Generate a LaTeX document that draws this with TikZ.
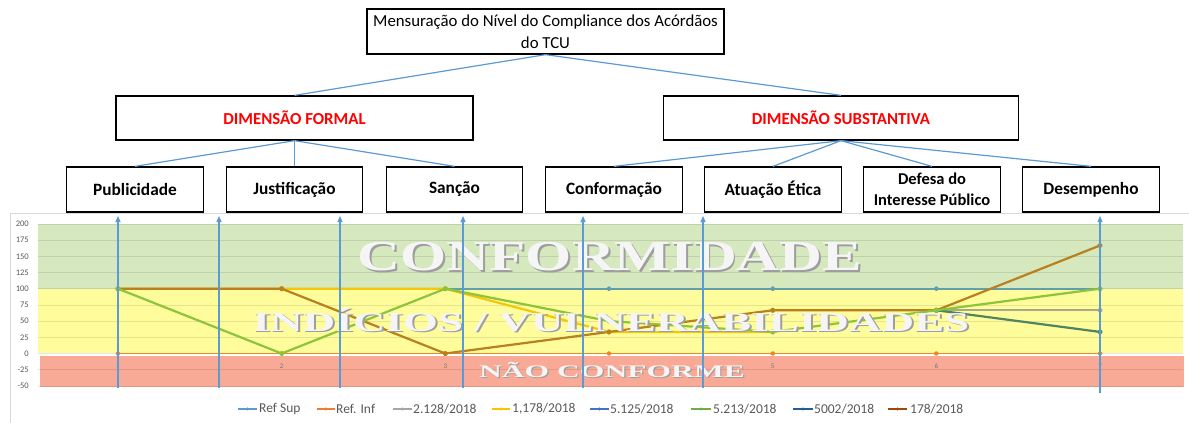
\documentclass[tikz,border=0pt]{standalone}
\usepackage{fontspec}
\setmainfont{Carlito}
\newfontfamily\bigserif{Liberation Serif}
\usetikzlibrary{arrows.meta}
\definecolor{connblue}{HTML}{5B9BD5}
\definecolor{bandgreen}{RGB}{213,232,190}
\definecolor{bandyellow}{RGB}{255,253,155}
\definecolor{bandred}{RGB}{249,170,150}
\definecolor{legtxt}{HTML}{595959}
\definecolor{cRefSup}{HTML}{5B9BD5}
\definecolor{cRefInf}{HTML}{ED7D31}
\definecolor{cA}{HTML}{A5A5A5}
\definecolor{cB}{HTML}{FFC000}
\definecolor{cC}{HTML}{4472C4}
\definecolor{cD}{HTML}{70AD47}
\definecolor{cE}{HTML}{255E91}
\definecolor{cF}{HTML}{9E480E}
% colours as seen inside the plot area
\definecolor{pRefSup}{RGB}{95,160,170}
\definecolor{pRefInf}{RGB}{238,135,35}
\definecolor{pA}{RGB}{170,168,140}
\definecolor{pB}{RGB}{245,198,10}
\definecolor{pD}{RGB}{140,196,60}
\definecolor{pE}{RGB}{80,132,98}
\definecolor{pF}{RGB}{184,128,30}
\begin{document}
\begin{tikzpicture}[x=1pt,y=-1pt,
  box/.style={draw=black, line width=1.3pt, fill=white, minimum width=136.5pt,
    minimum height=45pt, inner sep=1pt, align=center,
    font=\fontsize{17.3}{18}\selectfont\bfseries},
  dimbox/.style={box, minimum width=357pt, minimum height=44pt, text=red,
    font=\fontsize{16.8}{18}\selectfont\bfseries},
  topbox/.style={box, minimum width=357pt, font=\fontsize{16.8}{22}\selectfont},
  conn/.style={draw=connblue, line width=1.2pt},
  arr/.style={draw=connblue, line width=1.2pt, -{Triangle[length=6pt,width=5pt]}},
  series/.style={line width=2.2pt, line join=round},
  gridl/.style={draw=black, draw opacity=0.1, line width=0.8pt},
  ylab/.style={anchor=east, inner sep=0pt, text=legtxt, font=\fontsize{8.5}{9}\selectfont},
  xlab/.style={inner sep=0pt, text=black!55, font=\fontsize{7}{8}\selectfont},
  legtext/.style={anchor=west, inner sep=0pt, text=legtxt, font=\fontsize{13.5}{14}\selectfont},
  bigtxt/.style={inner sep=0pt, anchor=base, text=black!4},
  shadowtxt/.style={inner sep=0pt, anchor=base, text=black!38}
]
\useasboundingbox (0,0) rectangle (1189,423);
\fill[white] (0,0) rectangle (1189,423);

% ---------- chart frame ----------
\draw[black!15, line width=0.8pt] (10,423) -- (10,213) -- (1189,213);

% ---------- bands ----------
\fill[bandgreen] (38,224) rectangle (1183,289);
\fill[bandyellow] (38,289) rectangle (1183,353);
\fill[bandred] (40,356) rectangle (1184,387);

% ---------- grid and y labels ----------
\foreach \v in {200,175,...,-50}{
  \pgfmathsetmacro{\yy}{353.5-\v*0.648}
  \draw[gridl] (38,\yy) -- (1183,\yy);
  \node[ylab] at (29,\yy) {\v};
}

% ---------- data ----------
\begin{scope}[shift={(118,353.5)}, x=163.67pt, y=0.648pt]
  \foreach \i in {1,2,3,5,6,7}{
    \node[xlab] at (\i-1,-19.5) {\i};
  }
  \draw[series, pRefSup, line width=1.8pt] plot[mark=*, mark size=1.6pt]
    coordinates {(0,100) (1,100) (2,100) (3,100) (4,100) (5,100) (6,100)};
  \draw[series, pRefInf, line width=1.8pt] plot[mark=*, mark size=1.6pt]
    coordinates {(0,0) (1,0) (2,0) (3,0) (4,0) (5,0) (6,0)};
  \draw[series, pA] plot[mark=*, mark size=1.6pt]
    coordinates {(4,66.7) (5,66.7) (6,66.7)};
  \draw[series, pB] plot[mark=*, mark size=1.6pt]
    coordinates {(0,100) (1,100) (2,100) (3,33.3) (4,33.3)};
  \draw[series, pE] plot[mark=*, mark size=1.6pt]
    coordinates {(5,66.7) (6,33.3)};
  \draw[series, pF] plot[mark=*, mark size=1.6pt]
    coordinates {(0,100) (1,100) (2,0) (3,33.3) (4,66.7) (5,66.7) (6,166.7)};
  \draw[series, pD] plot[mark=*, mark size=1.6pt]
    coordinates {(0,100) (1,0) (2,100) (3,50) (4,33.3) (5,66.7) (6,100)};
\end{scope}

% ---------- zone labels ----------
\node[shadowtxt] at (612,272) {\scalebox{1.389}[1]{\fontsize{42.7}{43}\bigserif\bfseries CONFORMIDADE}};
\node[bigtxt] (zc) at (610,270) {\scalebox{1.389}[1]{\fontsize{42.7}{43}\bigserif\bfseries CONFORMIDADE}};
\node[shadowtxt] at (613,332.5) {\scalebox{1.658}[1]{\fontsize{27.2}{28}\bigserif\bfseries INDÍCIOS / VULNERABILIDADES}};
\node[bigtxt] (zi) at (611,331) {\scalebox{1.658}[1]{\fontsize{27.2}{28}\bigserif\bfseries INDÍCIOS / VULNERABILIDADES}};
\node[shadowtxt] at (613.2,378) {\scalebox{1.784}[1]{\fontsize{17.7}{18}\bigserif\bfseries NÃO CONFORME}};
\node[bigtxt] (zn) at (612,377) {\scalebox{1.784}[1]{\fontsize{17.7}{18}\bigserif\bfseries NÃO CONFORME}};

% ---------- legend ----------
\foreach \xa/\xb/\xt/\col/\lab in {
  238/257/259/cRefSup/Ref Sup,
  317/335/336/cRefInf/Ref. Inf,
  393/412/413/cA/2.128\slash 2018,
  492/510/512/cB/{1,178/2018},
  590/609/610/cC/5.125\slash 2018,
  691/711/713/cD/5.213\slash 2018,
  793/813/814/cE/5002\slash 2018,
  888/907/910/cF/178\slash 2018}{
  \draw[\col, line width=2pt] (\xa,409) -- (\xb,409);
  \fill[\col] ({(\xa+\xb)/2},409) circle (1.6pt);
  \node[legtext] at (\xt,409) {\lab};
}

% ---------- hierarchy ----------
\node[topbox] (top) at (545.5,31.5) {Mensuração do Nível do Compliance dos Acórdãos\\do TCU};
\node[dimbox] (df) at (294.5,118) {DIMENSÃO FORMAL};
\node[dimbox, minimum width=355.5pt] (ds) at (841,118) {DIMENSÃO SUBSTANTIVA};
\node[box] (b1) at (135,189.5) {Publicidade};
\node[box] (b2) at (294.5,189.5) {Justificação};
\node[box] (b3) at (454.5,189.5) {Sanção};
\node[box] (b4) at (614,189.5) {Conformação};
\node[box] (b5) at (773,189.5) {Atuação Ética};
\node[box, font=\fontsize{16.5}{21}\selectfont\bfseries] (b6) at (932,189.5) {Defesa do\\Interesse Público};
\node[box] (b7) at (1091,189.5) {Desempenho};

\draw[conn] (top.south) -- (df.north);
\draw[conn] (top.south) -- (ds.north);
\foreach \b in {b1,b2,b3}{ \draw[conn] (df.south) -- (\b.north); }
\foreach \b in {b4,b5,b6,b7}{ \draw[conn] (ds.south) -- (\b.north); }

% ---------- vertical arrows ----------
\foreach \n/\x/\yb in {1/118/388, 2/219/388, 3/340/388, 4/463/388, 5/583/388, 6/703/388, 7/1100/393}{
  \coordinate (as\n) at (\x,\yb);
  \coordinate (ae\n) at (\x,216);
  \draw[arr] (as\n) -- (ae\n);
}
\end{tikzpicture}
\end{document}
